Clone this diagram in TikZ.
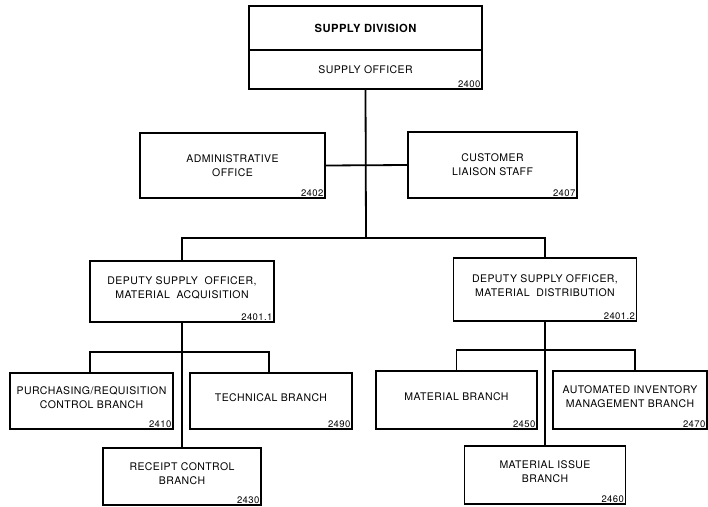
\documentclass[tikz,border=0pt]{standalone}
\usepackage{fontspec}
\setmainfont{TeX Gyre Heros}[LetterSpace=4]
\begin{document}
\begin{tikzpicture}[x=1pt,y=-1pt,
  box/.style={draw, line width=1.1pt, rectangle, inner sep=0pt, align=center,
    font=\fontsize{10.5}{14}\selectfont},
  num/.style={anchor=south east, inner sep=2pt, font=\fontsize{9.5}{10}\selectfont},
  conn/.style={line width=1.8pt}]
\useasboundingbox (0,0) rectangle (708,506);
% top
\node[box, minimum width=233pt, minimum height=44pt, font=\fontsize{11.2}{14}\selectfont\bfseries] (div) at (365.5,28) {SUPPLY DIVISION};
\node[box, minimum width=233pt, minimum height=39pt] (off) at (365.5,69.5) {SUPPLY OFFICER};
\node[num] at (off.south east) {2400};
% staff
\node[box, minimum width=185pt, minimum height=65pt] (adm) at (232.5,165.5) {ADMINISTRATIVE\\OFFICE};
\node[num] at (adm.south east) {2402};
\node[box, minimum width=169pt, minimum height=66pt] (cus) at (492.5,165) {CUSTOMER\\LIAISON STAFF};
\node[num] at (cus.south east) {2407};
% deputies
\node[box, minimum width=184pt, minimum height=61pt, text depth=8pt] (depL) at (182,291.5) {DEPUTY SUPPLY\ \ OFFICER,\\MATERIAL\ \ ACQUISITION};
\node[num] at (depL.south east) {2401.1};
\node[box, minimum width=183pt, minimum height=63pt, text depth=8pt] (depR) at (545,289.5) {DEPUTY SUPPLY OFFICER,\\MATERIAL\ \ DISTRIBUTION};
\node[num] at (depR.south east) {2401.2};
% left branches
\node[box, minimum width=163pt, minimum height=56pt, text depth=6pt] (pur) at (91.5,401) {PURCHASING/REQUISITION\\CONTROL BRANCH};
\node[num] at (pur.south east) {2410};
\node[box, minimum width=162pt, minimum height=56pt, text depth=6pt] (tec) at (271,401) {TECHNICAL BRANCH};
\node[num] at (tec.south east) {2490};
\node[box, minimum width=158pt, minimum height=57pt, text depth=6pt] (rec) at (182,476.5) {RECEIPT CONTROL\\BRANCH};
\node[num] at (rec.south east) {2430};
% right branches
\node[box, minimum width=161pt, minimum height=58pt, text depth=6pt] (mat) at (456.5,400) {MATERIAL BRANCH};
\node[num] at (mat.south east) {2450};
\node[box, minimum width=154pt, minimum height=58pt, text depth=6pt] (aut) at (630,400) {AUTOMATED INVENTORY\\MANAGEMENT BRANCH};
\node[num] at (aut.south east) {2470};
\node[box, minimum width=161pt, minimum height=58pt, text depth=6pt] (iss) at (545,475) {MATERIAL ISSUE\\BRANCH};
\node[num] at (iss.south east) {2460};
% connectors
\coordinate (j1) at (366,238);
\coordinate (jL) at (182,352);
\coordinate (jR) at (545,350);
\draw[conn] (off.south) -- (j1);
\draw[conn] (adm.east) -- (cus.west);
\draw[conn] (depL.north) |- (j1) -| (depR.north);
\draw[conn] (depL.south) -- (rec.north);
\draw[conn] ([xshift=-1.5pt]pur.north) |- (jL) -| ([xshift=-2pt]tec.north);
\draw[conn] (depR.south) -- (iss.north);
\draw[conn] (mat.north) |- (jR) -| ([xshift=5pt]aut.north);
\end{tikzpicture}
\end{document}
